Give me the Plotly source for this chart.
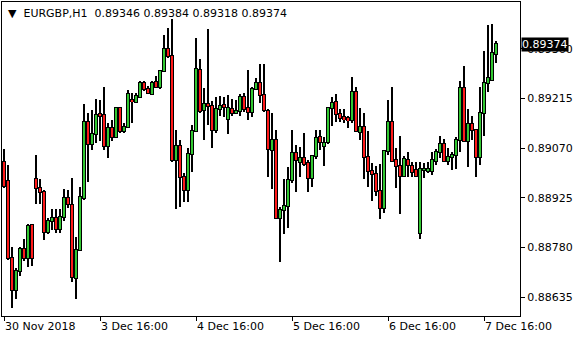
import plotly.graph_objects as go

symbol = "EURGBP,H1"
x_tick_bars = [0, 24, 48, 72, 96, 120]
x_tick_labels = ["30 Nov 2018", "3 Dec 16:00", "4 Dec 16:00", "5 Dec 16:00", "6 Dec 16:00", "7 Dec 16:00"]
y_ticks = [0.88635, 0.88780, 0.88925, 0.89070, 0.89215, 0.89360]

opens = [0.89029, 0.88975, 0.88749, 0.88657, 0.88712, 0.88775, 0.88749, 0.88846,
         0.88980, 0.88953, 0.88942, 0.88825, 0.88858, 0.88866, 0.88835, 0.88869,
         0.88924, 0.88905, 0.88691, 0.88773, 0.88924, 0.89146, 0.89082, 0.89111,
         0.89169, 0.89166, 0.89077, 0.89129, 0.89104, 0.89187, 0.89119, 0.89131,
         0.89211, 0.89206, 0.89221, 0.89262, 0.89244, 0.89229, 0.89264, 0.89250,
         0.89296, 0.89359, 0.89340, 0.89036, 0.89077, 0.88987, 0.88947, 0.89054,
         0.89121, 0.89299, 0.89182, 0.89199, 0.89194, 0.89122, 0.89185, 0.89197,
         0.89155, 0.89184, 0.89172, 0.89179, 0.89219, 0.89187, 0.89175, 0.89242,
         0.89260, 0.89225, 0.89180, 0.89065, 0.89094, 0.88866, 0.88890, 0.88902,
         0.88978, 0.89056, 0.89031, 0.89041, 0.89026, 0.88983, 0.89048, 0.89104,
         0.89078, 0.89087, 0.89187, 0.89204, 0.89170, 0.89160, 0.89157, 0.89152,
         0.89234, 0.89117, 0.89133, 0.89046, 0.89005, 0.88994, 0.88944, 0.88897,
         0.89062, 0.89146, 0.89036, 0.89019, 0.88990, 0.89036, 0.89019, 0.89007,
         0.88822, 0.89007, 0.89005, 0.89005, 0.89034, 0.89058, 0.89083, 0.89034,
         0.89044, 0.89049, 0.89093, 0.89245, 0.89090, 0.89140, 0.89124, 0.89046,
         0.89172, 0.89260, 0.89270, 0.89346]
highs = [0.89067, 0.89022, 0.88781, 0.88720, 0.88781, 0.88805, 0.88848, 0.88848,
         0.89049, 0.88980, 0.88949, 0.88866, 0.88892, 0.88893, 0.88892, 0.88952,
         0.88949, 0.88983, 0.88812, 0.88958, 0.89199, 0.89172, 0.89182, 0.89213,
         0.89211, 0.89248, 0.89143, 0.89153, 0.89189, 0.89189, 0.89143, 0.89240,
         0.89231, 0.89231, 0.89267, 0.89265, 0.89252, 0.89265, 0.89281, 0.89299,
         0.89401, 0.89420, 0.89447, 0.89124, 0.89094, 0.88997, 0.89070, 0.89138,
         0.89391, 0.89330, 0.89245, 0.89419, 0.89209, 0.89219, 0.89223, 0.89219,
         0.89226, 0.89214, 0.89211, 0.89229, 0.89231, 0.89299, 0.89248, 0.89274,
         0.89316, 0.89316, 0.89184, 0.89172, 0.89122, 0.88900, 0.88981, 0.89015,
         0.89124, 0.89080, 0.89075, 0.89114, 0.89036, 0.89049, 0.89124, 0.89122,
         0.89104, 0.89189, 0.89219, 0.89228, 0.89184, 0.89185, 0.89163, 0.89279,
         0.89248, 0.89187, 0.89172, 0.89121, 0.89026, 0.89019, 0.89024, 0.89065,
         0.89211, 0.89248, 0.89072, 0.89106, 0.89048, 0.89058, 0.89029, 0.89029,
         0.89031, 0.89026, 0.89031, 0.89058, 0.89067, 0.89106, 0.89096, 0.89072,
         0.89058, 0.89104, 0.89265, 0.89310, 0.89185, 0.89163, 0.89127, 0.89248,
         0.89354, 0.89430, 0.89433, 0.89384]
lows = [0.88953, 0.88744, 0.88603, 0.88629, 0.88698, 0.88742, 0.88723, 0.88725,
        0.88908, 0.88908, 0.88803, 0.88820, 0.88832, 0.88824, 0.88824, 0.88859,
        0.88895, 0.88681, 0.88629, 0.88772, 0.88919, 0.88973, 0.89065, 0.89085,
        0.89090, 0.89065, 0.89041, 0.89090, 0.89101, 0.89116, 0.89114, 0.89129,
        0.89145, 0.89202, 0.89219, 0.89238, 0.89229, 0.89227, 0.89248, 0.89242,
        0.89294, 0.89333, 0.89031, 0.88893, 0.88900, 0.88912, 0.88912, 0.89002,
        0.89119, 0.89174, 0.89093, 0.89138, 0.89070, 0.89116, 0.89165, 0.89161,
        0.89111, 0.89165, 0.89169, 0.89165, 0.89177, 0.89153, 0.89161, 0.89240,
        0.89202, 0.89177, 0.88985, 0.88950, 0.88864, 0.88739, 0.88819, 0.88837,
        0.88970, 0.88941, 0.88985, 0.89017, 0.88941, 0.88958, 0.89038, 0.89065,
        0.89017, 0.89082, 0.89135, 0.89148, 0.89146, 0.89145, 0.89129, 0.89145,
        0.89117, 0.89094, 0.88981, 0.88958, 0.88917, 0.88932, 0.88864, 0.88880,
        0.89049, 0.89031, 0.88955, 0.88878, 0.88986, 0.88986, 0.88985, 0.88986,
        0.88806, 0.88982, 0.88997, 0.88992, 0.89022, 0.89041, 0.89032, 0.89022,
        0.89007, 0.89010, 0.89058, 0.89088, 0.89014, 0.89093, 0.88987, 0.89022,
        0.89106, 0.89234, 0.89267, 0.89318]
closes = [0.88960, 0.88749, 0.88657, 0.88712, 0.88775, 0.88749, 0.88843, 0.88751,
          0.88953, 0.88941, 0.88825, 0.88858, 0.88866, 0.88835, 0.88869, 0.88924,
          0.88907, 0.88693, 0.88773, 0.88927, 0.89146, 0.89082, 0.89111, 0.89166,
          0.89163, 0.89077, 0.89130, 0.89104, 0.89187, 0.89119, 0.89131, 0.89228,
          0.89207, 0.89223, 0.89262, 0.89244, 0.89231, 0.89260, 0.89250, 0.89296,
          0.89359, 0.89340, 0.89036, 0.89077, 0.88987, 0.88947, 0.89054, 0.89121,
          0.89301, 0.89180, 0.89199, 0.89194, 0.89122, 0.89185, 0.89193, 0.89190,
          0.89187, 0.89172, 0.89179, 0.89219, 0.89186, 0.89175, 0.89243, 0.89260,
          0.89225, 0.89182, 0.89067, 0.89094, 0.88866, 0.88890, 0.88902, 0.88978,
          0.89056, 0.89036, 0.89041, 0.89024, 0.88983, 0.89048, 0.89101, 0.89087,
          0.89085, 0.89187, 0.89202, 0.89169, 0.89158, 0.89155, 0.89152, 0.89234,
          0.89119, 0.89131, 0.89046, 0.89005, 0.88994, 0.88944, 0.88897, 0.89062,
          0.89146, 0.89034, 0.89017, 0.88989, 0.89038, 0.89020, 0.89002, 0.88990,
          0.89009, 0.89009, 0.89009, 0.89036, 0.89060, 0.89083, 0.89034, 0.89046,
          0.89051, 0.89094, 0.89245, 0.89090, 0.89140, 0.89122, 0.89044, 0.89172,
          0.89260, 0.89274, 0.89348, 0.89374]

bars = list(range(len(opens)))
FONT = "DejaVu Sans"
BULL, BEAR = "#32c832", "#ff1a1a"

Y_RANGE = [0.885804, 0.894970]
PLOT_H = 340 - 2 - 24
px = (Y_RANGE[1] - Y_RANGE[0]) / PLOT_H      # one pixel in price units (outline thickness)

body_lo = [min(o, c) for o, c in zip(opens, closes)]
body_hi = [max(o, c) for o, c in zip(opens, closes)]
body_col = [BULL if c >= o else BEAR for o, c in zip(opens, closes)]

fig = go.Figure()
# wicks: 1 px black
fig.add_trace(go.Bar(x=bars, y=[h - l for h, l in zip(highs, lows)], base=lows,
                     width=0.25, marker=dict(color="black", line=dict(width=0)),
                     hoverinfo="skip"))
# body outline: black block, 1 px larger than the body above and below
fig.add_trace(go.Bar(x=bars, y=[hi - lo + 2 * px for lo, hi in zip(body_lo, body_hi)],
                     base=[lo - px for lo in body_lo],
                     width=0.9, marker=dict(color="black", line=dict(width=0)),
                     hoverinfo="skip"))
# body fill: coloured core
fig.add_trace(go.Bar(x=bars, y=[hi - lo for lo, hi in zip(body_lo, body_hi)], base=body_lo,
                     width=0.5, marker=dict(color=body_col, line=dict(width=0)),
                     customdata=list(zip(opens, highs, lows, closes)),
                     hovertemplate="O %{customdata[0]:.5f}<br>H %{customdata[1]:.5f}"
                                   "<br>L %{customdata[2]:.5f}<br>C %{customdata[3]:.5f}<extra></extra>"))

header = "\u25bc  {}  {:.5f} {:.5f} {:.5f} {:.5f}".format(
    symbol, opens[-1], highs[-1], lows[-1], closes[-1])

fig.update_layout(
    width=580, height=340,
    margin=dict(l=2, r=60, t=2, b=24),
    paper_bgcolor="white", plot_bgcolor="white",
    showlegend=False, barmode="overlay",
    font=dict(family=FONT, size=11, color="black"),
    xaxis=dict(
        range=[-0.5, 129.0],
        tickmode="array", tickvals=x_tick_bars, ticktext=x_tick_labels,
        ticks="outside", ticklen=4, tickcolor="black",
        ticklabelposition="outside right",
        showgrid=False, zeroline=False,
        showline=True, linecolor="black", linewidth=1, mirror=True,
        tickfont=dict(family=FONT, size=11, color="black"),
    ),
    yaxis=dict(
        side="right", range=Y_RANGE,
        tickmode="array", tickvals=y_ticks,
        ticktext=["{:.5f}".format(v) for v in y_ticks],
        ticks="outside", ticklen=4, tickcolor="black",
        showgrid=False, zeroline=False,
        showline=True, linecolor="black", linewidth=1, mirror=True,
        tickfont=dict(family=FONT, size=11, color="black"),
    ),
    annotations=[
        dict(xref="paper", yref="paper", x=0, y=1, xshift=4, yshift=-3,
             xanchor="left", yanchor="top", showarrow=False,
             text=header, font=dict(family=FONT, size=11, color="black")),
        dict(xref="paper", yref="y", x=1, y=closes[-1], xanchor="left", yanchor="middle",
             xshift=1, showarrow=False, text="{:.5f}".format(closes[-1]),
             bgcolor="black", borderpad=0,
             font=dict(family=FONT, size=11, color="white")),
    ],
)

crisp = ("var s=document.createElement('style');"
         "s.innerHTML='.main-svg path{shape-rendering:crispEdges}';"
         "document.head.appendChild(s);")
fig.write_html("out.html", post_script=crisp)
